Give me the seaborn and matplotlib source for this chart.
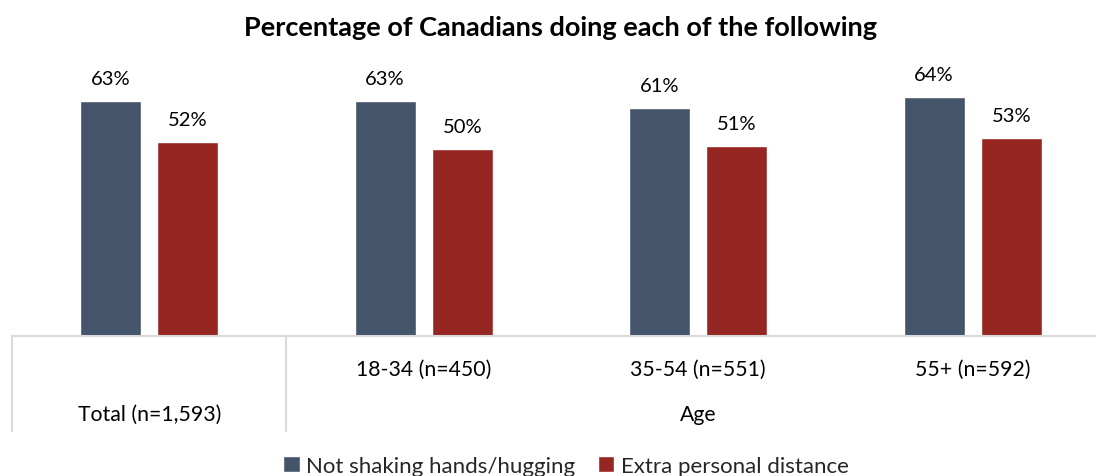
import numpy as np
import pandas as pd
import seaborn as sns
import matplotlib.pyplot as plt
from matplotlib.lines import Line2D

# data
groups = ["Total (n=1,593)", "18-34 (n=450)", "35-54 (n=551)", "55+ (n=592)"]
series = ["Not shaking hands/hugging", "Extra personal distance"]
not_shaking = [63, 63, 61, 64]
extra_distance = [52, 50, 51, 53]
colors = ["#44546A", "#962622"]

df = pd.DataFrame({
    "group": groups * 2,
    "series": [series[0]] * 4 + [series[1]] * 4,
    "value": not_shaking + extra_distance,
})

sns.set_style("white")
plt.rcParams['font.family'] = ['Lato', 'DejaVu Sans']

W, H = 1096, 477
fig = plt.figure(figsize=(W / 100, H / 100), dpi=100)
ax = fig.add_axes([12 / W, 1 - 337 / H, 1 - 12 / W, (337 - 60) / H])

sns.barplot(data=df, x="group", y="value", hue="series", palette=colors,
            width=0.564, gap=0.213, ax=ax, legend=True, saturation=1)

for c in ax.containers:
    ax.bar_label(c, labels=[f"{v:.0f}%" for v in c.datavalues],
                 padding=10, fontsize=14.5, color="black")

ax.set_xlim(-0.5, (W - 12) / 274.5 - 0.5)
ax.set_ylim(0, (337 - 60) / 3.735)
ax.set_xlabel("")
ax.set_ylabel("")
ax.set_xticks([])
ax.set_yticks([])
for s in ["top", "left", "right"]:
    ax.spines[s].set_visible(False)
ax.spines["bottom"].set_color("#D9D9D9")
ax.spines["bottom"].set_linewidth(1.5)

# category table under the axis
for x in [12, 286]:
    fig.add_artist(Line2D([x / W, x / W], [1 - 337 / H, 1 - 432 / H],
                          color="#D9D9D9", lw=1.5))
trans = ax.get_xaxis_transform()
row1 = -(370 - 337) / (337 - 60)
row2 = -(415 - 337) / (337 - 60)
for i, g in enumerate(groups[1:], start=1):
    ax.text(i, row1, g, transform=trans, ha="center", va="center",
            fontsize=15.3, color="black")
ax.text(0, row2, groups[0], transform=trans,
        ha="center", va="center", fontsize=15.3, color="black")
ax.text(2, row2, "Age", transform=trans,
        ha="center", va="center", fontsize=15.3, color="black")

fig.suptitle("Percentage of Canadians doing each of the following",
             x=561 / W, y=1 - 28 / H, va="center", fontsize=19.5,
             fontweight="bold", color="black")

handles, labels = ax.get_legend_handles_labels()
ax.legend_.remove()
fig.legend(handles, labels, loc="center", bbox_to_anchor=(566 / W, 1 - 467 / H),
           ncol=2, frameon=False, fontsize=16, handlelength=0.75,
           handleheight=0.75, handletextpad=0.3, columnspacing=1.0)

fig.savefig("out.png", dpi=100)
